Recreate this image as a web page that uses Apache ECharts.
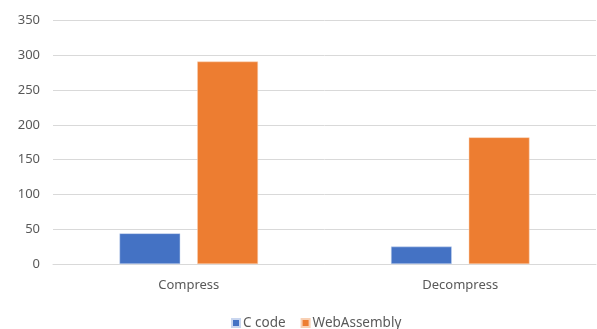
<!DOCTYPE html>
<html>
<head>
<meta charset="utf-8">
<script src="https://cdn.jsdelivr.net/npm/echarts@6/dist/echarts.min.js"></script>
<style>
  html, body { margin: 0; padding: 0; background: #fff; }
  #chart { width: 597px; height: 329px; }
</style>
</head>
<body>
<div id="chart"></div>
<script>
var categories = ["Compress", "Decompress"];
var cCode = [44, 25];
var webAssembly = [291, 182];

var chart = echarts.init(document.getElementById("chart"));
chart.setOption({
    animation: false,
    textStyle: { fontFamily: "Noto Sans", color: "#595959" },
    grid: { left: 53, right: 1, top: 20.5, bottom: 65 },
    legend: {
        bottom: -6,
        left: 226,
        itemWidth: 8,
        itemHeight: 8,
        itemGap: 15,
        icon: "rect",
        textStyle: { fontSize: 13.5, color: "#595959", padding: [0, 0, 0, -2] },
        data: ["C code", "WebAssembly"]
    },
    xAxis: {
        type: "category",
        data: categories,
        axisLine: { lineStyle: { color: "#d9d9d9" } },
        axisTick: { show: false },
        axisLabel: { fontSize: 13, color: "#595959", margin: 15 }
    },
    yAxis: {
        type: "value",
        min: 0,
        max: 350,
        interval: 50,
        axisLine: { show: false },
        axisTick: { show: false },
        splitLine: { lineStyle: { color: "#d9d9d9" } },
        axisLabel: { fontSize: 13, color: "#595959", margin: 13 }
    },
    series: [
        {
            name: "C code",
            type: "bar",
            data: cCode,
            barGap: "28%",
            barCategoryGap: "49%",
            itemStyle: { color: "#4472C4", borderColor: "#c9d6ef", borderWidth: 0.5 }
        },
        {
            name: "WebAssembly",
            type: "bar",
            data: webAssembly,
            itemStyle: { color: "#ED7D31", borderColor: "#f8d0b4", borderWidth: 0.5 }
        }
    ]
});
</script>
</body>
</html>
